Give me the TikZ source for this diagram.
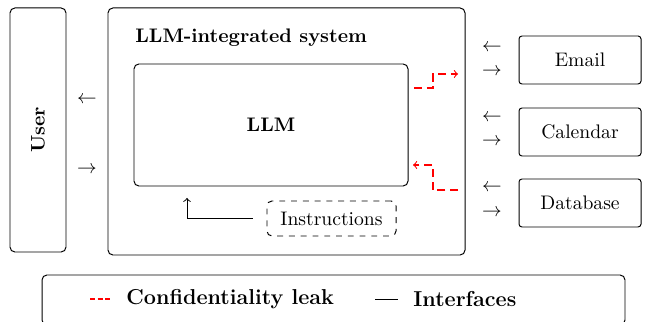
\documentclass[tikz,border=0pt]{standalone}
\usetikzlibrary{calc}

\tikzset{
  box/.style={draw,line width=0.5pt,rounded corners=2.5pt,inner sep=0pt},
  leak/.style={red,line width=0.55pt,dash pattern=on 4pt off 2.5pt},
  link/.style={line width=0.5pt}
}

\begin{document}
\begin{tikzpicture}[x=0.51pt,y=-0.51pt]
  \useasboundingbox (0,0) rectangle (657,322);
  % user and system
  \node[box,minimum width=28.56pt,minimum height=124.44pt] (user) at (38,130) {};
  \node[rotate=90,font=\bfseries] at (user.center) {User};
  \node (userin) at (87,100) {$\leftarrow$};
  \node (userout) at (87,170) {$\rightarrow$};
  \node[box,minimum width=182.07pt,minimum height=125.97pt] (system) at (286.5,131.5) {};
  \node[anchor=west,inner sep=0pt,font=\bfseries] (title) at (135,38) {LLM-integrated system};
  \node[box,minimum width=139.74pt,minimum height=62.22pt,font=\bfseries] (llm) at (271,125) {LLM};
  \node[box,dashed,minimum width=65.79pt,minimum height=17.85pt] (instr) at (331.5,218.5)
    {Instructions};
  \coordinate (instrtip) at (187,186);
  \draw[link,->,shorten <=7.1pt,shorten >=6.1pt] (instr.west) -| (instrtip);
  % leaks
  \coordinate (leakA) at (414,88);
  \coordinate (leakAend) at (458,74);
  \draw[leak,->] (leakA) -- ++(19,0) |- (leakAend);
  \coordinate (leakB) at (458,190);
  \coordinate (leakBend) at (413,165);
  \draw[leak,->] (leakB) -- ++(-25,0) |- (leakBend);
  % tools
  \node[box,rounded corners=1.5pt,minimum width=62.22pt,minimum height=24.48pt] (email) at (580,60) {Email};
  \node[box,rounded corners=1.5pt,minimum width=62.22pt,minimum height=24.48pt] (calendar) at (580,132) {Calendar};
  \node[box,rounded corners=1.5pt,minimum width=62.22pt,minimum height=24.48pt] (database) at (580,203) {Database};
  \node (emailin) at (492,48) {$\leftarrow$};
  \node (emailout) at (492,72) {$\rightarrow$};
  \node (calin) at (492,118) {$\leftarrow$};
  \node (calout) at (492,142) {$\rightarrow$};
  \node (dbin) at (492,188) {$\leftarrow$};
  \node (dbout) at (492,213) {$\rightarrow$};
  % legend
  \node[box,minimum width=297.3pt,minimum height=25.5pt] (legend) at (333.5,300) {};
  \coordinate (keyleak) at (90,299);
  \draw[red,line width=0.55pt,dash pattern=on 2.5pt off 1.4pt] (keyleak) -- ++(22,0);
  \node[anchor=west,inner sep=0pt,font=\fontsize{11}{13}\selectfont\bfseries] (leaktext) at (126,299) {Confidentiality leak};
  \coordinate (keylink) at (375,299);
  \draw[line width=0.4pt] (keylink) -- ++(23,0);
  \node[anchor=west,inner sep=0pt,font=\fontsize{11}{13}\selectfont\bfseries] (linktext) at (413,299) {Interfaces};
\end{tikzpicture}
\end{document}
